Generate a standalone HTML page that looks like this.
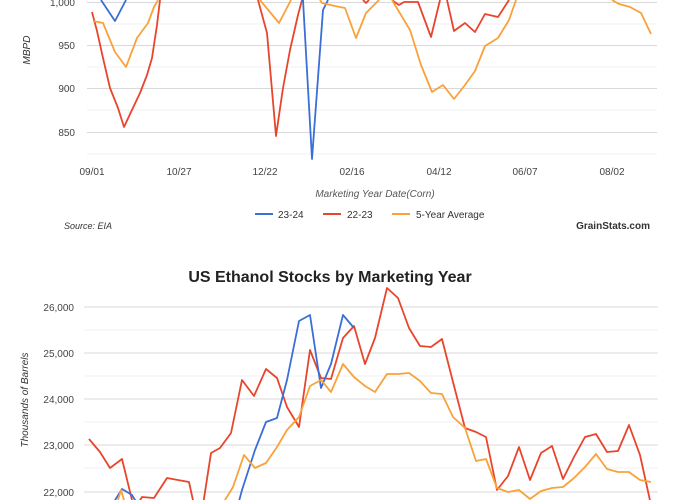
<!DOCTYPE html>
<html><head><style>
body{margin:0;background:#fff;}
svg{display:block;font-family:"Liberation Sans",Arial,sans-serif;}
</style></head><body>
<svg width="683" height="500" viewBox="0 0 683 500" xmlns="http://www.w3.org/2000/svg">
<rect width="683" height="500" fill="#fff"/>
<!-- top chart -->
<g stroke="#e6e6e6" stroke-width="1">
<line x1="87" y1="2.5" x2="657" y2="2.5" stroke="#d9d9d9"/>
<line x1="87" y1="24" x2="657" y2="24" stroke="#f0f0f0"/>
<line x1="87" y1="45.5" x2="657" y2="45.5" stroke="#d9d9d9"/>
<line x1="87" y1="67" x2="657" y2="67" stroke="#f0f0f0"/>
<line x1="87" y1="88.5" x2="657" y2="88.5" stroke="#d9d9d9"/>
<line x1="87" y1="110" x2="657" y2="110" stroke="#f0f0f0"/>
<line x1="87" y1="132.5" x2="657" y2="132.5" stroke="#d9d9d9"/>
<line x1="87" y1="154" x2="657" y2="154" stroke="#f0f0f0"/>
</g>
<g font-size="10" fill="#444" text-anchor="end">
<text x="75" y="6">1,000</text><text x="75" y="49">950</text><text x="75" y="92">900</text><text x="75" y="136">850</text>
</g>
<text x="0" y="0" font-size="10" font-style="italic" fill="#333" transform="translate(30,50) rotate(-90)" text-anchor="middle">MBPD</text>
<g font-size="10" fill="#444" text-anchor="middle">
<text x="92" y="175">09/01</text><text x="179" y="175">10/27</text><text x="265" y="175">12/22</text><text x="352" y="175">02/16</text><text x="439" y="175">04/12</text><text x="525" y="175">06/07</text><text x="612" y="175">08/02</text>
</g>
<text x="375" y="197" font-size="10" font-style="italic" fill="#555" text-anchor="middle">Marketing Year Date(Corn)</text>
<g fill="none" stroke-width="1.8" stroke-linejoin="round">
<polyline stroke="#e8452c" points="92,12 97,31 103,58 110,88 118,108 124,127 131,112 140,93 147,75 152,58 157,25 160,0"/>
<polyline stroke="#e8452c" points="258,0 267,33 276,136 283,88 290,50 298,15 302,0"/>
<polyline stroke="#e8452c" points="363,0 366,3 369,0"/>
<polyline stroke="#e8452c" points="392,0 396,3 399,5 404,2 418,2 431,37 440,0"/>
<polyline stroke="#e8452c" points="447,0 454,31 465,23 475,32 485,14 498,17 509,0"/>
<polyline stroke="#3a6fd8" points="101,0 115,21 126,0"/>
<polyline stroke="#3a6fd8" points="303,0 312,159 323,10 328,0"/>
<polyline stroke="#f9a23a" points="93,21 103,23 115,52 126,67 137,38 148,23 154,7 158,0"/>
<polyline stroke="#f9a23a" points="260,0 279,23 291,0"/>
<polyline stroke="#f9a23a" points="320,0 322,3 335,6 345,8 356,38 366,13 379,0"/>
<polyline stroke="#f9a23a" points="392,0 410,30 421,65 432,92 443,85 454,99 465,85 475,71 485,46 498,38 509,20 516,0"/>
<polyline stroke="#f9a23a" points="612,0 619,4 630,7 641,13 651,34"/>
</g>
<g font-size="10" fill="#333">
<line x1="255" y1="214" x2="273" y2="214" stroke="#3a6fd8" stroke-width="2"/><text x="278" y="218">23-24</text>
<line x1="323" y1="214" x2="341" y2="214" stroke="#e8452c" stroke-width="2"/><text x="347" y="218">22-23</text>
<line x1="392" y1="214" x2="410" y2="214" stroke="#f9a23a" stroke-width="2"/><text x="416" y="218">5-Year Average</text>
</g>
<text x="64" y="229" font-size="9" font-style="italic" fill="#333">Source: EIA</text>
<text x="650" y="229" font-size="10" font-weight="bold" fill="#333" text-anchor="end">GrainStats.com</text>
<!-- bottom chart -->
<text x="330" y="282" font-size="16" font-weight="bold" fill="#222" text-anchor="middle">US Ethanol Stocks by Marketing Year</text>
<g stroke-width="1">
<line x1="84" y1="307" x2="658" y2="307" stroke="#d9d9d9"/>
<line x1="84" y1="330" x2="658" y2="330" stroke="#f0f0f0"/>
<line x1="84" y1="353" x2="658" y2="353" stroke="#d9d9d9"/>
<line x1="84" y1="376" x2="658" y2="376" stroke="#f0f0f0"/>
<line x1="84" y1="399" x2="658" y2="399" stroke="#d9d9d9"/>
<line x1="84" y1="422" x2="658" y2="422" stroke="#f0f0f0"/>
<line x1="84" y1="445" x2="658" y2="445" stroke="#d9d9d9"/>
<line x1="84" y1="468" x2="658" y2="468" stroke="#f0f0f0"/>
<line x1="84" y1="492" x2="658" y2="492" stroke="#d9d9d9"/>
</g>
<g font-size="10" fill="#444" text-anchor="end">
<text x="74" y="311">26,000</text><text x="74" y="357">25,000</text><text x="74" y="403">24,000</text><text x="74" y="449">23,000</text><text x="74" y="496">22,000</text>
</g>
<text x="0" y="0" font-size="10" font-style="italic" fill="#333" transform="translate(28,400) rotate(-90)" text-anchor="middle">Thousands of Barrels</text>
<g fill="none" stroke-width="1.8" stroke-linejoin="round">
<polyline stroke="#e8452c" points="89,439 100,452 110,468 122,459 132,500"/>
<polyline stroke="#e8452c" points="137,505 142,497 154,498 167,478 178,480 189,482 194,505"/>
<polyline stroke="#e8452c" points="203,505 211,453 220,448 231,433 242,380 254,396 266,369 277,378 287,407 299,427 310,350 321,378 331,379 343,338 354,326 365,364 375,338 387,288 398,298 409,328 420,346 431,347 442,339 453,382 465,428 476,432 486,437 497,490 508,476 519,447 530,480 541,453 552,446 563,479 574,457 585,437 596,434 607,452 618,451 629,425 640,455 651,505"/>
<polyline stroke="#3a6fd8" points="112,505 122,489 132,495 138,505"/>
<polyline stroke="#3a6fd8" points="238,505 242,490 255,450 266,422 277,418 287,380 299,321 310,315 321,388 331,364 343,315 354,328"/>
<polyline stroke="#f9a23a" points="118,500 121,490 124,500"/>
<polyline stroke="#f9a23a" points="222,505 233,487 244,455 255,468 266,463 277,447 287,430 299,417 310,386 321,380 331,392 343,364 354,377 365,386 375,392 387,374 398,374 409,373 420,381 431,393 442,394 453,417 465,428 476,461 486,459 497,488 508,492 519,490 530,499 541,491 552,488 563,487 574,478 585,467 596,454 607,469 618,472 629,472 640,480 651,482"/>
</g>
</svg>
</body></html>
